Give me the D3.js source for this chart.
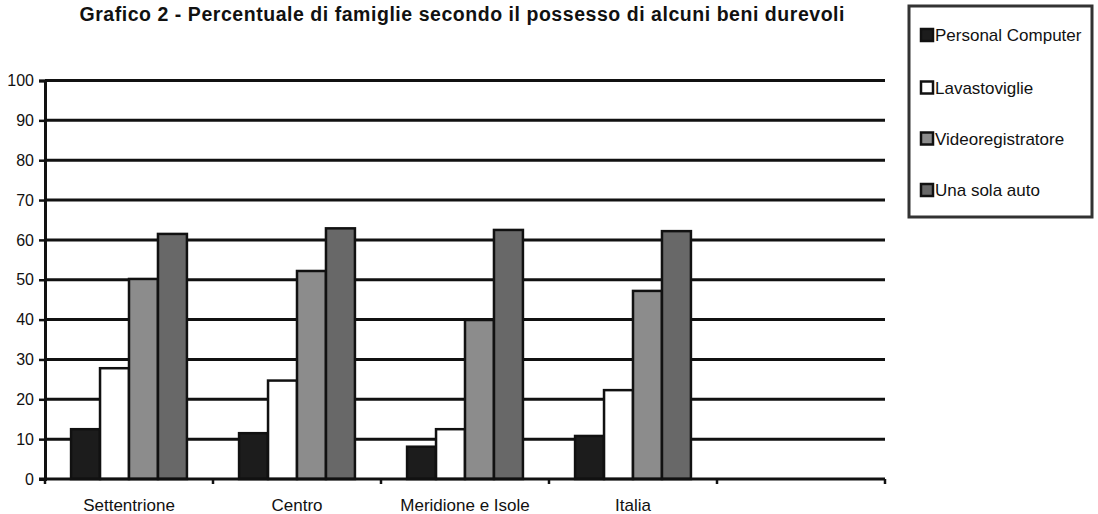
<!DOCTYPE html>
<html><head><meta charset="utf-8">
<script src="https://cdn.jsdelivr.net/npm/d3@7/dist/d3.min.js"></script>
<style>body{margin:0;background:#fff;}svg{display:block;font-family:"Liberation Sans",Arial,sans-serif;}</style>
</head><body><svg id="c" width="1098" height="514"></svg>
<script>
const categories = ["Settentrione", "Centro", "Meridione e Isole", "Italia", ""];
const series = ["Personal Computer", "Lavastoviglie", "Videoregistratore", "Una sola auto"];
const personalComputer = [12.5, 11.5, 8.1, 10.8];
const lavastoviglie = [27.8, 24.7, 12.5, 22.3];
const videoregistratore = [50.2, 52.2, 39.9, 47.2];
const unaSolaAuto = [61.5, 62.9, 62.5, 62.2];
const yTicks = [0, 10, 20, 30, 40, 50, 60, 70, 80, 90, 100];
const colors = ["#1c1c1c", "#ffffff", "#8c8c8c", "#686868"];
const title = "Grafico 2 - Percentuale di famiglie secondo il possesso di alcuni beni durevoli";

const values = [personalComputer, lavastoviglie, videoregistratore, unaSolaAuto];
const svg = d3.select("#c");
const L = 45, R = 885, T = 80.5, B = 479;
const FF = "Liberation Sans, Arial, sans-serif";

const x = d3.scaleBand().domain(categories.map((c,i)=>i)).range([L, R]).paddingInner(0).paddingOuter(0);
const y = d3.scaleLinear().domain([0, 100]).range([B, T]);
const xs = d3.scaleBand().domain(series).range([0, x.bandwidth()]).paddingInner(0.0).paddingOuter(0.9);

svg.append("text").attr("x", 462).attr("y", 21).attr("text-anchor", "middle")
  .attr("font-weight", "bold").attr("font-size", 19.5).attr("fill", "#111")
  .attr("textLength", 765).attr("lengthAdjust", "spacing").text(title);

// gridlines
svg.append("g").selectAll("line").data(yTicks.filter(d=>d>0)).join("line")
  .attr("x1", L).attr("x2", R).attr("y1", d=>y(d)).attr("y2", d=>y(d))
  .attr("stroke", "#111").attr("stroke-width", 3);

// y axis
const ya = svg.append("g").attr("transform", `translate(${L},0)`)
  .call(d3.axisLeft(y).tickValues(yTicks).tickSize(6).tickPadding(5));
ya.select(".domain").attr("stroke", "#111").attr("stroke-width", 3);
ya.selectAll(".tick line").attr("stroke", "#111").attr("stroke-width", 2.5);
ya.selectAll("text").attr("font-size", 16).attr("fill", "#111").attr("font-family", FF);

// bars
const groups = svg.append("g").selectAll("g").data(categories.slice(0, 4)).join("g")
  .attr("transform", (d,i)=>`translate(${x(i)},0)`);
groups.selectAll("rect").data((d,i)=>series.map((s,j)=>({s, j, v: values[j][i]}))).join("rect")
  .attr("x", d=>xs(d.s)).attr("width", xs.bandwidth())
  .attr("y", d=>y(d.v)).attr("height", d=>B - y(d.v))
  .attr("fill", d=>colors[d.j]).attr("stroke", "#111").attr("stroke-width", 2.5);

// x axis
const xa = svg.append("g").attr("transform", `translate(0,${B})`)
  .call(d3.axisBottom(x).tickSize(0).tickPadding(20).tickFormat(i=>categories[i]));
xa.select(".domain").remove();
xa.selectAll("text").attr("font-size", 17).attr("fill", "#111").attr("font-family", FF);
svg.append("line").attr("x1", L-6).attr("x2", R).attr("y1", B).attr("y2", B).attr("stroke", "#111").attr("stroke-width", 3);
svg.append("g").selectAll("line").data(categories.map((c,i)=>i).concat([categories.length])).join("line")
  .attr("x1", i=> i < categories.length ? x(i) : R).attr("x2", i=> i < categories.length ? x(i) : R)
  .attr("y1", B).attr("y2", B+5).attr("stroke", "#111").attr("stroke-width", 2.5);

// legend
const lg = svg.append("g");
lg.append("rect").attr("x", 909).attr("y", 6).attr("width", 183).attr("height", 211)
  .attr("fill", "#fff").attr("stroke", "#333").attr("stroke-width", 3);
const ly = [35, 87.5, 138.5, 190];
series.forEach((s, j) => {
  lg.append("rect").attr("x", 921).attr("y", ly[j]-6).attr("width", 12).attr("height", 12)
    .attr("fill", colors[j]).attr("stroke", "#111").attr("stroke-width", 2.5);
  lg.append("text").attr("x", 935).attr("y", ly[j]+6).attr("font-size", 17).attr("fill", "#111")
    .attr("font-family", FF).text(s);
});
</script></body></html>
